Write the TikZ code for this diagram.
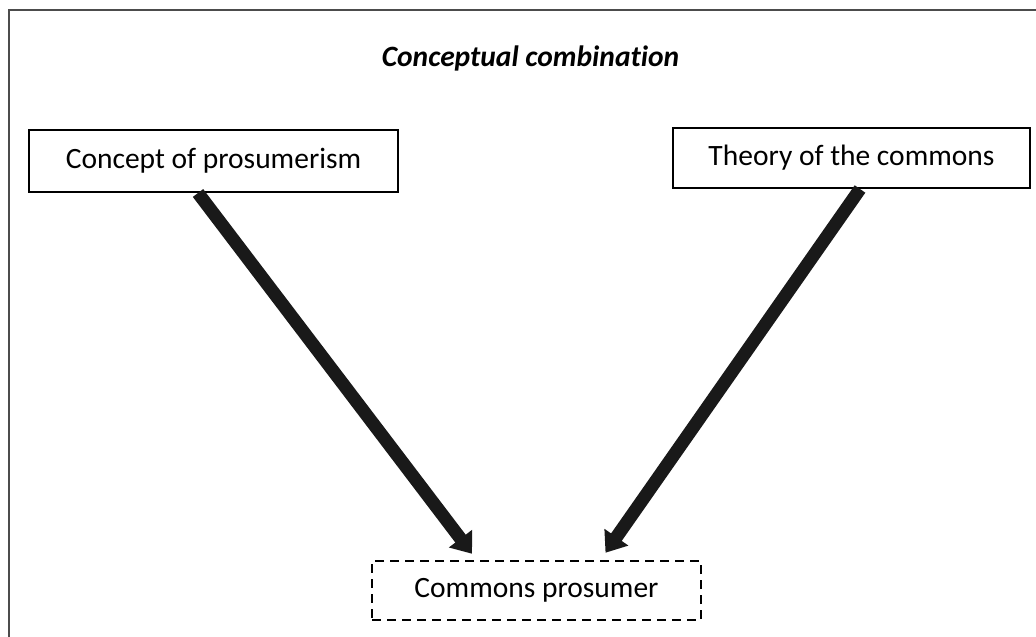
\documentclass[tikz,border=0pt]{standalone}
\usepackage{fontspec}
\setmainfont{Carlito}[Ligatures=NoCommon]
\usetikzlibrary{arrows.meta,calc}
\begin{document}
\begin{tikzpicture}[x=1pt,y=-1pt,
  box/.style={draw=black,line width=2pt,inner sep=0pt,font=\fontsize{29.5}{35}\selectfont},
  dbox/.style={box,dashed,dash pattern=on 9pt off 6pt,line width=2.5pt},
  bigarrow/.style={line width=13pt,black!90,-{Triangle[length=19pt,width=28pt]}},
  title/.style={font=\fontsize{29.5}{35}\selectfont\bfseries\itshape}]
\useasboundingbox (0,0) rectangle (1036,637);
\clip (0,0) rectangle (1036,637);
\draw[line width=1.5pt,black!70] (9,10) rectangle (1050,650);
\node[title] (t) at (530.5,58) {Conceptual combination};
\node[box,minimum width=369pt,minimum height=62pt] (l) at (213.5,161) {Concept of prosumerism};
\node[box,minimum width=357pt,minimum height=60pt] (r) at (851.5,158) {Theory of the commons};
\node[dbox,minimum width=329pt,minimum height=59pt] (b) at (536.5,590.5) {Commons prosumer};
\coordinate (lt) at ($(b.north)+(-64.5,-6)$);
\coordinate (rt) at ($(b.north)+(69,-7)$);
\draw[bigarrow] ($(l.south)+(-15.5,0)$) -- (lt);
\draw[bigarrow] ($(r.south)+(8.5,0)$) -- (rt);
\end{tikzpicture}
\end{document}
